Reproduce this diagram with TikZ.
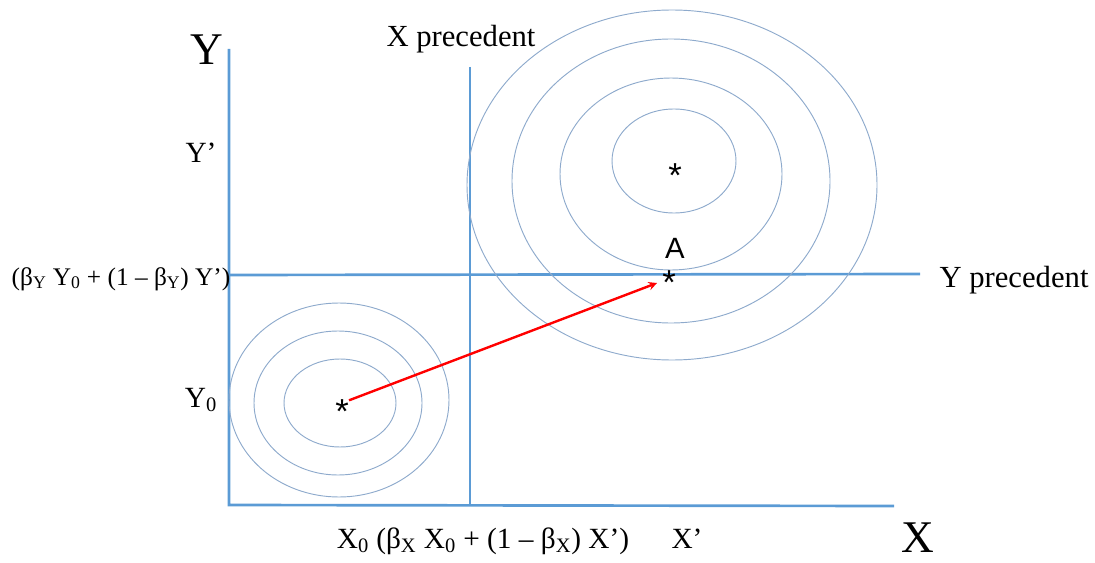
\documentclass[tikz,border=0pt]{standalone}
\usepackage{fontspec}
\setmainfont{Liberation Serif}
\newfontfamily\sansfont{Liberation Sans}
\definecolor{axisblue}{HTML}{5B9BD5}
\definecolor{ringblue}{HTML}{8EAACC}
\begin{document}
\begin{tikzpicture}[>=stealth, x=0.75pt, y=-0.75pt,
  axisline/.style={draw=axisblue, line width=2pt},
  ring/.style={draw=ringblue, line width=0.7pt},
  lbl/.style={inner sep=0pt, anchor=base, font=\fontsize{22}{26}\selectfont},
  biglbl/.style={inner sep=0pt, anchor=base, font=\fontsize{34}{40}\selectfont},
  starmark/.style={inner sep=0pt, text height=30pt, text depth=0pt, font=\sansfont\fontsize{26}{30}\selectfont}]
\useasboundingbox (0,0) rectangle (1095,563);
\coordinate (ytop) at (229,49);
\coordinate (o) at (229,505);
\coordinate (xend) at (894,506);
\coordinate (xpt) at (470,67);
\coordinate (xpb) at (470,506);
\coordinate (ypl) at (229,275);
\coordinate (ypr) at (920,274);
\draw[axisline] (ytop) -- (o) -- (xend);
\draw[axisline] (xpt) -- (xpb);
\draw[axisline] (ypl) -- (ypr);
\draw[ring] (674,161) ellipse [x radius=62*0.75pt, y radius=52*0.75pt];
\draw[ring] (671,174) ellipse [x radius=111*0.75pt, y radius=96*0.75pt];
\draw[ring] (671,181) ellipse [x radius=159*0.75pt, y radius=142*0.75pt];
\draw[ring] (672,185) ellipse [x radius=205*0.75pt, y radius=175*0.75pt];
\draw[ring] (340,403) ellipse [x radius=56*0.75pt, y radius=44*0.75pt];
\draw[ring] (338,403) ellipse [x radius=84*0.75pt, y radius=72*0.75pt];
\draw[ring] (339,400) ellipse [x radius=110*0.75pt, y radius=97*0.75pt];
\node[biglbl] (ylab) at (207,65) {Y};
\node[biglbl] (xlab) at (918,552) {X};
\node[lbl, font=\fontsize{23}{27}\selectfont] (xprec) at (461,47) {X precedent};
\node[lbl, font=\fontsize{23}{27}\selectfont] (yprec) at (1014,287) {Y precedent};
\node[lbl] (yp) at (201,162) {Y’};
\node[lbl] (y0) at (201,407) {Y\textsubscript{0}};
\node[lbl, font=\fontsize{19}{23}\selectfont] (yform) at (121,285) {(β\textsubscript{Y} Y\textsubscript{0} + (1 – β\textsubscript{Y}) Y’)};
\node[lbl] (xform) at (483,548) {X\textsubscript{0} (β\textsubscript{X} X\textsubscript{0} + (1 – β\textsubscript{X}) X’)};
\node[lbl] (xp) at (687,548) {X’};
\node[inner sep=0pt, anchor=base, font=\sansfont\fontsize{22}{26}\selectfont] (alab) at (675,258) {A};
\node[starmark] (s0) at (342,403) {*};
\node[starmark] (s1) at (675,167) {*};
\node[starmark] (sa) at (669,274) {*};
\coordinate (aend) at (657,283);
\draw[->, red, line width=1.8pt] (s0) -- (aend);
\end{tikzpicture}
\end{document}
